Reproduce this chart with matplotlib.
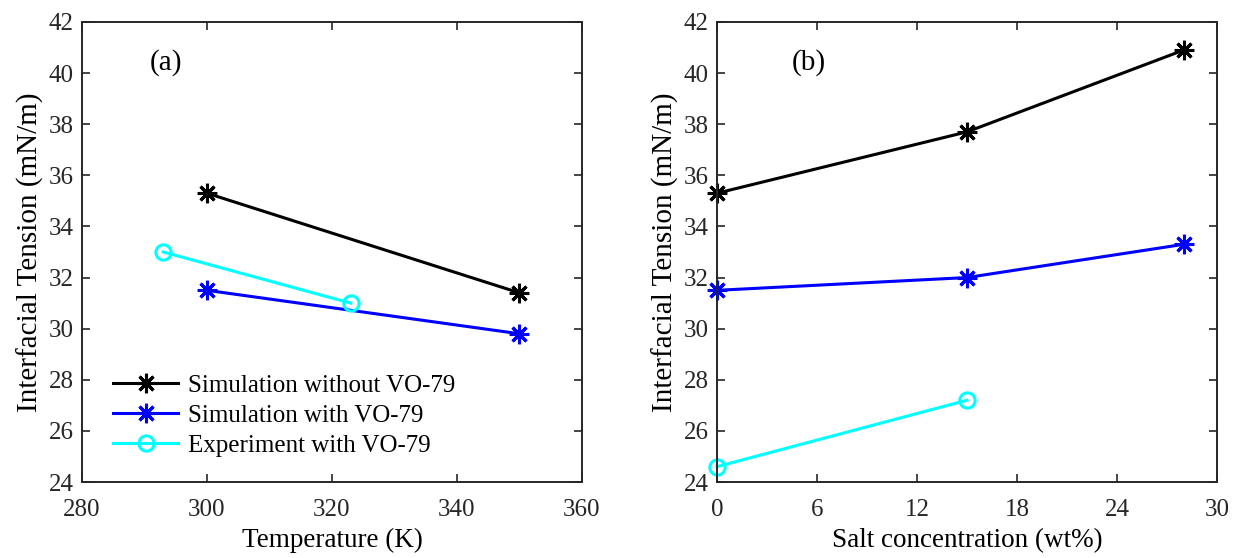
import numpy as np
import matplotlib.pyplot as plt

plt.rcParams['font.family'] = ['Liberation Serif', 'DejaVu Serif']
plt.rcParams['font.size'] = 18

# (a) temperature series
temp_sim = [300, 350]
ift_sim_without = [35.3, 31.4]
ift_sim_with = [31.5, 29.8]
temp_exp = [293, 323]
ift_exp_temp = [33.0, 31.0]

# (b) salt concentration series
salt_sim = [0, 15, 28]
ift_salt_without = [35.3, 37.7, 40.9]
ift_salt_with = [31.5, 32.0, 33.3]
salt_exp = [0, 15]
ift_exp_salt = [24.6, 27.2]

labels = ['Simulation without VO-79', 'Simulation with VO-79', 'Experiment with VO-79']

AST = (8, 2, 0)   # MATLAB-style asterisk
edge = '#262626'

fig = plt.figure(figsize=(12.33, 5.58), dpi=100)
ax1 = fig.add_axes([0.0665, 0.1362, 0.4055, 0.8244])
ax2 = fig.add_axes([0.5815, 0.1362, 0.4055, 0.8244])

kw = dict(lw=2.2, mew=2.2)
ax1.plot(temp_sim, ift_sim_without, color='k', marker=AST, ms=14, label=labels[0], **kw)
ax1.plot(temp_sim, ift_sim_with, color='#0000ff', marker=AST, ms=14, label=labels[1], **kw)
ax1.plot(temp_exp, ift_exp_temp, color='#00ffff', marker='o', ms=11, mfc='none',
         label=labels[2], **kw)

ax2.plot(salt_sim, ift_salt_without, color='k', marker=AST, ms=14, **kw)
ax2.plot(salt_sim, ift_salt_with, color='#0000ff', marker=AST, ms=14, **kw)
ax2.plot(salt_exp, ift_exp_salt, color='#00ffff', marker='o', ms=11, mfc='none', **kw)

ax1.set_xlim(280, 360)
ax1.set_xticks(np.arange(280, 361, 20))
ax2.set_xlim(0, 30)
ax2.set_xticks(np.arange(0, 31, 6))

for ax in (ax1, ax2):
    ax.set_ylim(24, 42)
    ax.set_yticks(np.arange(24, 43, 2))
    ax.set_ylabel('Interfacial Tension (mN/m)', fontsize=21, labelpad=3)
    ax.tick_params(direction='in', top=True, right=True, length=6, width=1.2,
                   colors=edge, labelcolor=edge)
    ax.tick_params(axis='x', pad=12.5)
    ax.tick_params(axis='y', pad=6)
    for s in ax.spines.values():
        s.set_color(edge)
        s.set_linewidth(1.4)
    for ln in ax.lines:
        ln.set_clip_on(False)

ax1.set_xlabel('Temperature (K)', fontsize=19.5, labelpad=5)
ax2.set_xlabel('Salt concentration (wt%)', fontsize=19.5, labelpad=5)

ax1.text(290.9, 40.4, '(a)', ha='left', va='center', fontsize=21)
ax2.text(4.5, 40.4, '(b)', ha='left', va='center', fontsize=21)

ax1.legend(loc='lower left', bbox_to_anchor=(0.018, 0.005), frameon=False,
           handlelength=2.6, handletextpad=0.4, labelspacing=0.3,
           borderaxespad=0.5)

fig.savefig('out.png', dpi=100)
